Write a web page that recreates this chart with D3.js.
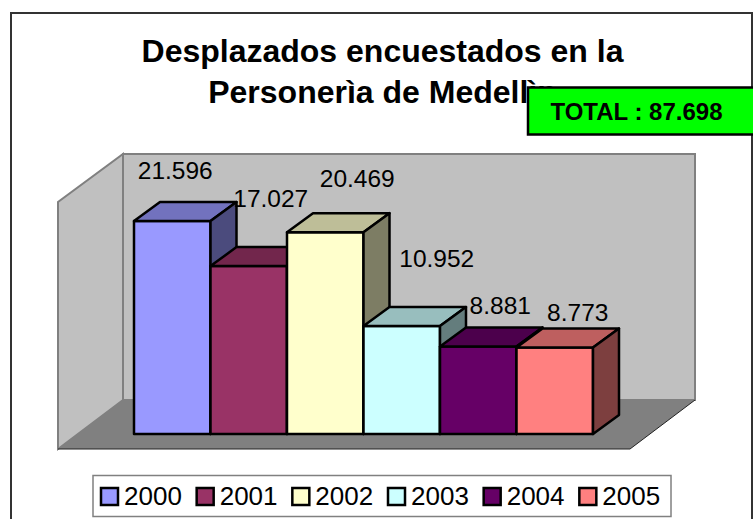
<!DOCTYPE html>
<html>
<head>
<meta charset="utf-8">
<script src="https://cdn.jsdelivr.net/npm/d3@7"></script>
<style>
  html, body { margin: 0; padding: 0; background: #fff; overflow: hidden; }
  text { font-family: "Liberation Sans", Arial, sans-serif; fill: #000; }
</style>
</head>
<body>
<svg id="chart"></svg>
<script>
const width = 753;
const height = 519;

const years = ['2000', '2001', '2002', '2003', '2004', '2005'];
const counts = [21596, 17027, 20469, 10952, 8881, 8773];
const colors = ['#9999FF', '#993366', '#FFFFCC', '#CCFFFF', '#660066', '#FF8080'];
const titleLines = ['Desplazados encuestados en la', 'Personerìa de Medellìn'];

// labels were moved by hand in the original, so they need a nudge from the bar top
const labelDx = [3, 22, 32, 35, 22, 23];
const labelDy = [-42, -59, -45, -59, -32, -26];

// 3d box depth
const depthX = 26;
const depthY = -19;

const svg = d3.select('#chart').attr('width', width).attr('height', height);

const x = d3.scaleBand().domain(years).range([134, 593]);
const y = d3.scaleLinear().domain([0, 25000]).range([434, 187.5]);
const legendX = d3.scaleBand().domain(years).range([96, 670]);

const fmt = d3.formatLocale({ decimal: ',', thousands: '.', grouping: [3], currency: ['', ''] }).format(',d');

// chart frame
svg.append('rect')
  .attr('x', 11).attr('y', 13)
  .attr('width', 741).attr('height', 530)
  .attr('fill', '#fff').attr('stroke', '#333').attr('stroke-width', 2);

// title
svg.append('g').selectAll('text')
  .data(titleLines).enter()
  .append('text')
  .attr('x', 382.5)
  .attr('y', (d, i) => 62 + i * 41)
  .attr('text-anchor', 'middle')
  .attr('font-size', 32)
  .attr('font-weight', 'bold')
  .text(d => d);

// walls and floor, all taken from the plot scales
const floorY = y(0) + 15;
const left = 58, right = 630;
const dxWall = 65, dyWall = -49;
const line = d3.line();

const topY = y(25000) - 33.5;

svg.append('path')
  .attr('d', line([[left, floorY], [left + dxWall, floorY + dyWall], [left + dxWall, topY], [left, topY + 48]]) + 'Z')
  .attr('fill', '#C0C0C0').attr('stroke', '#808080').attr('stroke-width', 2);
svg.append('rect')
  .attr('x', left + dxWall).attr('y', topY)
  .attr('width', right - left).attr('height', floorY + dyWall - topY)
  .attr('fill', '#C0C0C0').attr('stroke', '#808080').attr('stroke-width', 2);
svg.append('path')
  .attr('d', line([[left, floorY], [left + dxWall, floorY + dyWall], [right + dxWall, floorY + dyWall], [right, floorY]]) + 'Z')
  .attr('fill', '#808080');
svg.append('path')
  .attr('d', line([[left, floorY], [right, floorY], [right + dxWall, floorY + dyWall]]))
  .attr('fill', 'none').attr('stroke', '#222').attr('stroke-width', 1);

// bars, left to right so each one covers the side of the previous
const bars = svg.append('g').selectAll('g')
  .data(years).enter()
  .append('g')
  .attr('stroke', '#000')
  .attr('stroke-width', 2.5)
  .attr('stroke-linejoin', 'round');

bars.append('rect')
  .attr('x', d => x(d))
  .attr('y', (d, i) => y(counts[i]))
  .attr('width', x.bandwidth())
  .attr('height', (d, i) => y(0) - y(counts[i]))
  .attr('fill', (d, i) => colors[i]);

bars.append('path')
  .attr('d', (d, i) => {
    const x0 = x(d), x1 = x0 + x.bandwidth(), t = y(counts[i]);
    return line([[x0, t], [x0 + depthX, t + depthY], [x1 + depthX, t + depthY], [x1, t]]) + 'Z';
  })
  .attr('fill', (d, i) => d3.rgb(colors[i]).darker(0.83));

bars.append('path')
  .attr('d', (d, i) => {
    const x1 = x(d) + x.bandwidth(), t = y(counts[i]);
    return line([[x1, t], [x1 + depthX, t + depthY], [x1 + depthX, y(0) + depthY], [x1, y(0)]]) + 'Z';
  })
  .attr('fill', (d, i) => d3.rgb(colors[i]).darker(2));

// value labels
svg.append('g').selectAll('text')
  .data(counts).enter()
  .append('text')
  .attr('x', (d, i) => x(years[i]) + x.bandwidth() / 2 + labelDx[i])
  .attr('y', (d, i) => y(d) + labelDy[i])
  .attr('text-anchor', 'middle')
  .attr('font-size', 24.5)
  .text(d => fmt(d));

// total box sits over the end of the title
svg.append('rect')
  .attr('x', 528).attr('y', 87.5)
  .attr('width', 240).attr('height', 47)
  .attr('fill', '#00FF00').attr('stroke', '#000').attr('stroke-width', 2.5);
svg.append('text')
  .attr('x', 636.5).attr('y', 120)
  .attr('text-anchor', 'middle')
  .attr('font-size', 24)
  .attr('font-weight', 'bold')
  .text('TOTAL : ' + fmt(d3.sum(counts)));

// legend
svg.append('rect')
  .attr('x', 93).attr('y', 475.5)
  .attr('width', 578).attr('height', 41)
  .attr('fill', '#fff').attr('stroke', '#808080').attr('stroke-width', 1.5);

const legend = svg.append('g').selectAll('g')
  .data(years).enter()
  .append('g')
  .attr('transform', d => `translate(${legendX(d)}, 0)`);

legend.append('rect')
  .attr('x', 5).attr('y', 488)
  .attr('width', 17).attr('height', 17)
  .attr('fill', (d, i) => colors[i])
  .attr('stroke', '#000').attr('stroke-width', 2.5);

legend.append('text')
  .attr('x', 28).attr('y', 505)
  .attr('font-size', 26)
  .text(d => d);
</script>
</body>
</html>
